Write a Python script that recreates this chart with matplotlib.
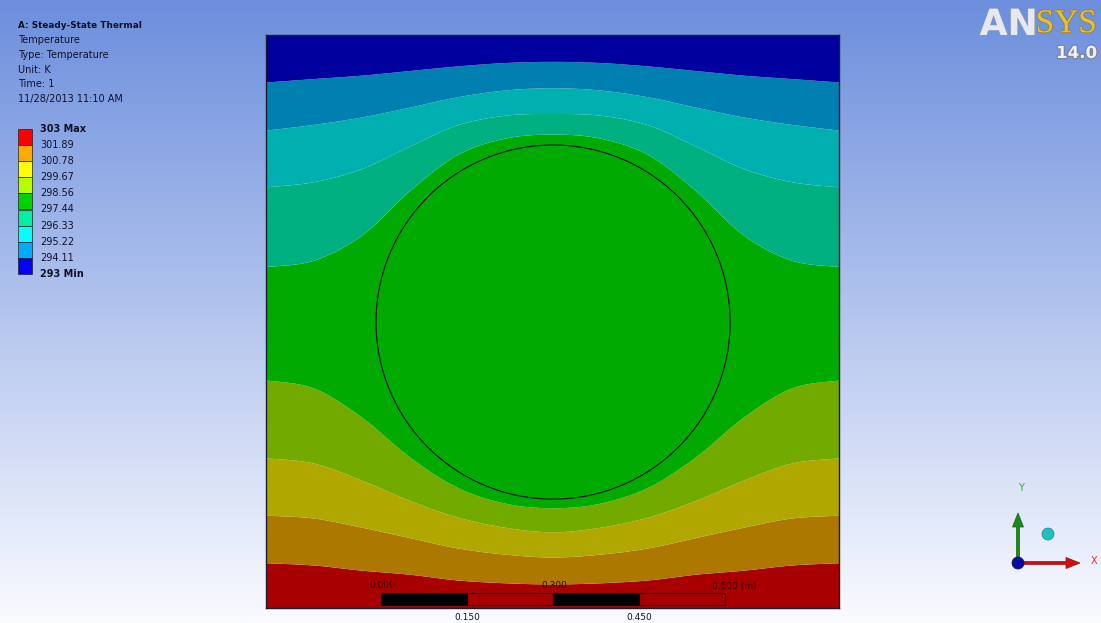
import numpy as np
import matplotlib
matplotlib.use("Agg")
import matplotlib.pyplot as plt
from matplotlib.patches import Rectangle, Circle, FancyArrow
import matplotlib.patheffects as pe

# ---------------- data ----------------
title_lines = ["Temperature", "Type: Temperature", "Unit: K", "Time: 1", "11/28/2013 11:10 AM"]
legend_labels = ["303 Max", "301.89", "300.78", "299.67", "298.56", "297.44",
                 "296.33", "295.22", "294.11", "293 Min"]
legend_colors = ["#ff0000", "#ffaa00", "#ffff00", "#b4ff00", "#00d200",
                 "#00f0a0", "#00ffff", "#00aaff", "#0000ff"]
# rendered (shaded) colours of the bands in the model, bottom -> top
band_colors = ["#a80000", "#ad7800", "#b0a800", "#72aa00", "#00aa00",
               "#00b080", "#00b0b0", "#0080b0", "#00009e"]

# band boundaries read from the left half (x in m, y in m); field is symmetric
x_half = [0.0, 0.083, 0.167, 0.25, 0.333, 0.417, 0.5]
b_red_brown    = [0.079, 0.075, 0.066, 0.059, 0.049, 0.044, 0.042]
b_brown_yellow = [0.162, 0.157, 0.141, 0.123, 0.105, 0.094, 0.089]
b_yellow_olive = [0.262, 0.253, 0.223, 0.188, 0.159, 0.141, 0.133]
b_olive_green  = [0.398, 0.384, 0.333, 0.264, 0.211, 0.183, 0.175]
b_green_teal   = [0.596, 0.607, 0.651, 0.728, 0.791, 0.820, 0.827]
b_teal_cyan    = [0.735, 0.744, 0.767, 0.806, 0.843, 0.860, 0.863]
b_cyan_lblue   = [0.834, 0.844, 0.857, 0.874, 0.892, 0.904, 0.908]
b_lblue_blue   = [0.918, 0.924, 0.930, 0.938, 0.946, 0.952, 0.954]

circle_center = (0.501, 0.499)
circle_radius = 0.309

scale_ticks_top = ["0.000", "0.300", "0.600 (m)"]
scale_ticks_bottom = ["0.150", "0.450"]

# ---------------- helpers ----------------
def mirror(xh, yh):
    xs = list(xh) + [1.0 - v for v in reversed(xh[:-1])]
    ys = list(yh) + list(reversed(yh[:-1]))
    return np.array(xs), np.array(ys)

def catmull(xs, ys, n=30):
    P = np.column_stack([xs, ys])
    P = np.vstack([P[0], P, P[-1]])
    out = []
    t = np.linspace(0, 1, n, endpoint=False)[:, None]
    for i in range(1, len(P) - 2):
        p0, p1, p2, p3 = P[i - 1], P[i], P[i + 1], P[i + 2]
        seg = 0.5 * (2 * p1 + (-p0 + p2) * t + (2 * p0 - 5 * p1 + 4 * p2 - p3) * t ** 2
                     + (-p0 + 3 * p1 - 3 * p2 + p3) * t ** 3)
        out.append(seg)
    out.append(P[-2][None, :])
    out = np.vstack(out)
    return out[:, 0], out[:, 1]

W, H = 1101, 623
fig = plt.figure(figsize=(W / 100, H / 100), dpi=100)

# background gradient
bg = fig.add_axes([0, 0, 1, 1])
bg.set_axis_off()
top = np.array([108, 142, 221]) / 255
bot = np.array([250, 251, 255]) / 255
tt = np.linspace(0, 1, 256)[:, None]
grad = top[None, :] * (1 - tt) + bot[None, :] * tt
bg.imshow(grad[:, None, :], aspect="auto", extent=[0, W, H, 0])
bg.set_xlim(0, W)
bg.set_ylim(H, 0)

# plate axes
px0, py0, pw = 266, 35, 573
ax = fig.add_axes([px0 / W, (H - py0 - pw) / H, pw / W, pw / H])
ax.set_xlim(0, 1)
ax.set_ylim(0, 1)
ax.set_xticks([])
ax.set_yticks([])
for s in ax.spines.values():
    s.set_color("#1c1c30")
    s.set_linewidth(1.0)

boundaries = [b_red_brown, b_brown_yellow, b_yellow_olive, b_olive_green,
              b_green_teal, b_teal_cyan, b_cyan_lblue, b_lblue_blue]
curves = []
for b in boundaries:
    xs, ys = mirror(x_half, b)
    cx, cy = catmull(xs, ys)
    curves.append(cy)
xgrid = cx
lower = [np.zeros_like(xgrid)] + curves
upper = curves + [np.ones_like(xgrid)]
for lo, hi, col in zip(lower, upper, band_colors):
    ax.fill_between(xgrid, lo, hi, color=col, linewidth=0)

ax.add_patch(Circle(circle_center, circle_radius, fill=False, ec="#101010", lw=0.8))

# overlay axes in pixel coordinates
ov = fig.add_axes([0, 0, 1, 1])
ov.set_axis_off()
ov.set_xlim(0, W)
ov.set_ylim(H, 0)
ov.patch.set_alpha(0)

txt = "#10102a"
ov.text(18, 25, "A: Steady-State Thermal", fontsize=6.4, fontweight="bold", color=txt, va="center")
for i, line in enumerate(title_lines):
    ov.text(18, 40 + i * 14.8, line, fontsize=7, color=txt, va="center")

box_top, box_h = 129, 16.1
for i, col in enumerate(legend_colors):
    ov.add_patch(Rectangle((18, box_top + i * box_h), 14, box_h, fc=col, ec="#202020", lw=0.5))
for i, lab in enumerate(legend_labels):
    bold = i in (0, len(legend_labels) - 1)
    ov.text(40, box_top + i * box_h, lab, fontsize=7, color=txt, va="center",
            fontweight="bold" if bold else "normal")

# scale bar
bx0, bx1, by, bh = 381, 725, 593, 12
seg = (bx1 - bx0) / 4
for i in range(4):
    ov.add_patch(Rectangle((bx0 + i * seg, by), seg, bh,
                           fc="#000000" if i % 2 == 0 else "#a80000", ec="#000000", lw=0.8))
ov.text(bx0 - 12, 586, scale_ticks_top[0], fontsize=6.5, color="#3a0000", va="center")
ov.text(bx0 + 2 * seg - 12, 586, scale_ticks_top[1], fontsize=6.5, color="#3a0000", va="center")
ov.text(bx1 - 13, 586, scale_ticks_top[2], fontsize=6.5, color="#3a0000", va="center")
ov.text(bx0 + seg, 617, scale_ticks_bottom[0], fontsize=6.5, color=txt, va="center", ha="center")
ov.text(bx0 + 3 * seg, 617, scale_ticks_bottom[1], fontsize=6.5, color=txt, va="center", ha="center")

# ANSYS logo
ov.text(1038, 25, "AN", fontsize=26, fontweight="bold", color="#e6e9f2", ha="right", va="center",
        family="DejaVu Sans", path_effects=[pe.withStroke(linewidth=1.2, foreground="#8a96b8")])
ov.text(1097, 24, "SYS", fontsize=24, color="#e2c23c", ha="right", va="center",
        family="Liberation Serif", path_effects=[pe.withStroke(linewidth=1.2, foreground="#9a8030")])
ov.text(1097, 53, "14.0", fontsize=12, fontweight="bold", color="#f0f0f6", ha="right", va="center",
        path_effects=[pe.withStroke(linewidth=1.8, foreground="#7a82a0")])

# triad
ox, oy = 1018, 563
ov.add_patch(FancyArrow(ox, oy, 0, -50, width=3, head_width=11, head_length=14,
                        length_includes_head=True, fc="#1a8a1a", ec="#106010", lw=0.5))
ov.add_patch(FancyArrow(ox, oy, 62, 0, width=3, head_width=11, head_length=14,
                        length_includes_head=True, fc="#d01010", ec="#901010", lw=0.5))
ov.add_patch(Circle((ox, oy), 6, fc="#0a0aa0", ec="#050560", lw=0.5))
ov.add_patch(Circle((1048, 534), 6, fc="#20c0c0", ec="#108888", lw=0.5))
ov.text(1021, 488, "Y", fontsize=7, color="#30b030", ha="center", va="center")
ov.text(1094, 561, "X", fontsize=7, color="#e03030", ha="center", va="center")

fig.savefig("out.png", dpi=100)
